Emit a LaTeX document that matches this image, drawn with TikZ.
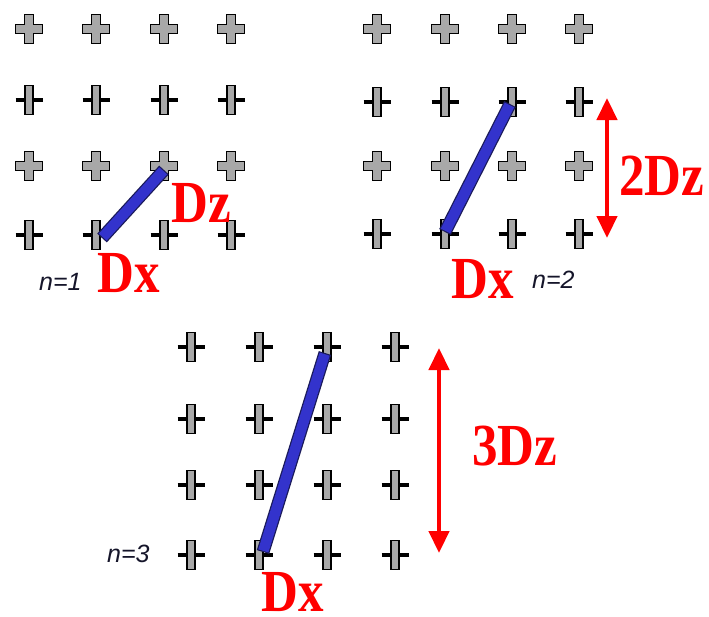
\documentclass[tikz,border=0pt]{standalone}
\usepackage{fontspec}
\setmainfont{Liberation Serif}
\newfontfamily\lsans{Liberation Sans}
\usetikzlibrary{arrows.meta,calc}
\definecolor{barblue}{HTML}{3333CC}
\definecolor{baredgecol}{HTML}{1A1A5A}
\definecolor{mk}{HTML}{A8A8A8}
\definecolor{nlab}{HTML}{15152A}
\tikzset{
  markA/.pic={\filldraw[fill=mk,draw=black,line width=1.8pt,line join=miter]
     (-4.5,-14.5) -- (4.5,-14.5) -- (4.5,-4.5) -- (13.5,-4.5) -- (13.5,4.5) -- (4.5,4.5)
     -- (4.5,14.5) -- (-4.5,14.5) -- (-4.5,4.5) -- (-13.5,4.5) -- (-13.5,-4.5) -- (-4.5,-4.5) -- cycle;},
  markB/.pic={\draw[line width=4pt] (-13.5,0) -- (13.5,0);
     \filldraw[fill=mk,draw=black,line width=1.8pt] (-4.2,-14.5) rectangle (4.2,14.5);},
  biglab/.style={text=red,font=\fontsize{51}{51}\selectfont\bfseries,inner sep=0pt,anchor=base west},
  nlabel/.style={text=nlab,font=\lsans\itshape\fontsize{25}{25}\selectfont,inner sep=0pt,anchor=base west},
  baroutline/.style={line width=13pt,draw=baredgecol},
  barinside/.style={line width=10.5pt,draw=barblue},
  redarrow/.style={red,line width=4.5pt,{Triangle[width=20pt,length=22pt]}-{Triangle[width=20pt,length=22pt]}}
}
\begin{document}
\begin{tikzpicture}[x=1pt,y=-1pt]
\useasboundingbox[fill=white] (0,0) rectangle (709,616);
% grid 1
\foreach \x in {29,96,164,231}{
  \pic at (\x,29) {markA}; \pic at (\x,100) {markB};
  \pic at (\x,166) {markA}; \pic at (\x,235) {markB};}
% grid 2
\foreach \x in {377,445,512,579}{
  \pic at (\x,29) {markA}; \pic at (\x,102) {markB};
  \pic at (\x,166) {markA}; \pic at (\x,234) {markB};}
% grid 3
\foreach \x in {191,259,327,395}{
  \foreach \y in {347,419,485,555}{\pic at (\x,\y) {markB};}}
% bars
\coordinate (b1s) at (102,238); \coordinate (b1e) at (164,170);
\coordinate (b2s) at (445,232); \coordinate (b2e) at (510,104);
\coordinate (b3s) at (263,552); \coordinate (b3e) at (325,353);
\foreach \s/\e in {b1s/b1e,b2s/b2e,b3s/b3e}{
  \draw[baroutline] (\s) -- (\e);
  \draw[barinside] ($(\s)!1.2pt!(\e)$) -- ($(\e)!1.2pt!(\s)$);}
% red arrows
\coordinate (a2t) at (607,98); \coordinate (a2b) at (607,238);
\coordinate (a3t) at (439,348); \coordinate (a3b) at (439,553);
\draw[redarrow] (a2t) -- (a2b);
\draw[redarrow] (a3t) -- (a3b);
% labels
\node[biglab] (dz1) at (171,222) {\scalebox{1}[1.17]{Dz}};
\node[biglab] (dx1) at (97,292) {\scalebox{1}[1.17]{Dx}};
\node[biglab] (dz2) at (619,195) {\scalebox{1}[1.17]{2Dz}};
\node[biglab] (dx2) at (451,298) {\scalebox{1}[1.17]{Dx}};
\node[biglab] (dz3) at (472,465) {\scalebox{1}[1.17]{3Dz}};
\node[biglab] (dx3) at (261,611) {\scalebox{1}[1.17]{Dx}};
\node[nlabel] (n1) at (39,290) {n=1};
\node[nlabel] (n2) at (532,288) {n=2};
\node[nlabel] (n3) at (107,562) {n=3};
\end{tikzpicture}
\end{document}
